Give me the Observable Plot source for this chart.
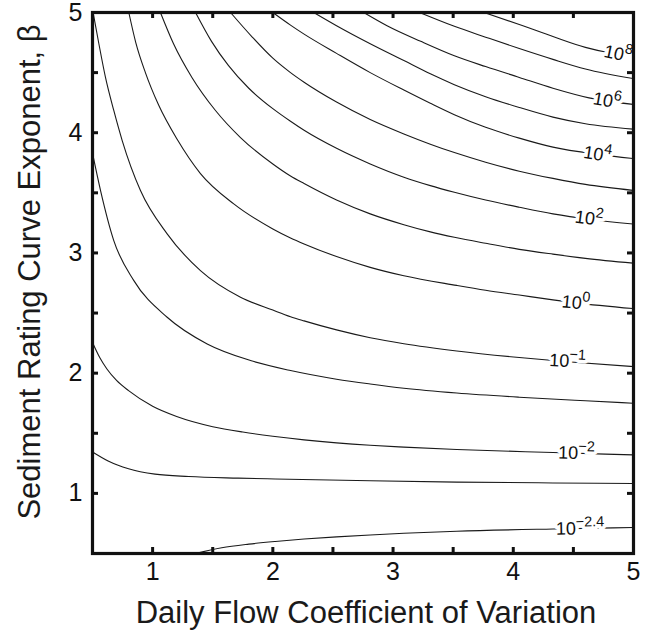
<!DOCTYPE html>
<html>
<head>
<meta charset="utf-8">
<script src="https://cdn.jsdelivr.net/npm/d3@7"></script>
<script src="https://cdn.jsdelivr.net/npm/@observablehq/plot@0.6"></script>
<style>
  body { margin: 0; background: #fff; }
  #chart { width: 647px; height: 632px; }
</style>
</head>
<body>
<div id="chart"></div>
<script>
// Contour lines: [Daily flow CV, beta]
const level8   = [[3.757,5.0],[4.05,4.90],[4.33,4.80],[4.60,4.71],[4.80,4.665],[5.0,4.64]];
const level7   = [[3.22,5.0],[3.51,4.885],[3.77,4.795],[4.05,4.70],[4.33,4.61],[4.60,4.53],[5.0,4.45]];
const level6   = [[2.756,5.0],[2.95,4.89],[3.23,4.76],[3.51,4.64],[3.77,4.55],[4.05,4.46],[4.33,4.37],[4.63,4.29],[5.0,4.235]];
const level5   = [[2.34,5.0],[2.53,4.89],[2.81,4.74],[3.09,4.60],[3.31,4.49],[3.51,4.40],[3.77,4.30],[4.05,4.21],[4.33,4.13],[4.60,4.075],[5.0,4.03]];
const level4   = [[2.0,5.0],[2.147,4.895],[2.26,4.82],[2.53,4.66],[2.81,4.50],[3.09,4.355],[3.31,4.245],[3.51,4.15],[3.77,4.045],[4.05,3.955],[4.33,3.88],[4.70,3.82],[5.0,3.785]];
const level3   = [[1.648,5.0],[1.825,4.80],[2.0,4.62],[2.147,4.50],[2.26,4.42],[2.53,4.255],[2.81,4.11],[3.09,3.99],[3.31,3.905],[3.51,3.835],[3.77,3.755],[4.05,3.68],[4.33,3.62],[4.60,3.57],[5.0,3.52]];
const level2   = [[1.357,5.0],[1.49,4.76],[1.63,4.56],[1.80,4.37],[2.0,4.20],[2.147,4.095],[2.26,4.02],[2.53,3.87],[2.81,3.74],[3.09,3.63],[3.31,3.56],[3.51,3.505],[3.77,3.44],[4.05,3.38],[4.33,3.325],[4.63,3.28],[5.0,3.24]];
const level1   = [[1.065,5.0],[1.174,4.74],[1.327,4.46],[1.523,4.185],[1.731,3.96],[2.0,3.74],[2.147,3.64],[2.26,3.577],[2.53,3.44],[2.81,3.325],[3.09,3.235],[3.31,3.175],[3.51,3.13],[3.77,3.08],[4.05,3.03],[4.33,2.99],[4.60,2.955],[5.0,2.915]];
const level0   = [[0.802,5.0],[0.86,4.75],[0.94,4.50],[1.05,4.23],[1.204,3.945],[1.398,3.66],[1.675,3.408],[2.0,3.20],[2.147,3.125],[2.26,3.075],[2.53,2.97],[2.81,2.88],[3.09,2.81],[3.53,2.73],[3.77,2.69],[4.05,2.65],[4.33,2.61],[4.52,2.585],[5.0,2.537]];
const levelM1  = [[0.505,5.0],[0.553,4.74],[0.608,4.46],[0.677,4.185],[0.747,3.935],[0.899,3.519],[1.121,3.159],[1.398,2.853],[1.731,2.632],[2.0,2.525],[2.147,2.47],[2.26,2.435],[2.53,2.36],[2.81,2.295],[3.09,2.245],[3.53,2.185],[4.05,2.13],[4.45,2.095],[5.0,2.055]];
const levelM15 = [[0.5,3.83],[0.567,3.519],[0.677,3.103],[0.844,2.77],[1.121,2.465],[1.454,2.243],[1.814,2.105],[2.147,2.022],[2.53,1.95],[2.81,1.91],[3.09,1.875],[3.53,1.835],[4.05,1.80],[4.60,1.77],[5.0,1.75]];
const levelM2  = [[0.5,2.255],[0.56,2.13],[0.62,2.035],[0.70,1.94],[0.80,1.855],[1.0,1.725],[1.2,1.64],[1.5,1.555],[1.75,1.51],[2.0,1.475],[2.26,1.445],[2.53,1.42],[2.81,1.40],[3.09,1.385],[3.53,1.365],[4.33,1.34],[5.0,1.32]];
const levelM22 = [[0.5,1.345],[0.63,1.27],[0.80,1.205],[1.02,1.16],[1.30,1.14],[1.71,1.127],[2.02,1.12],[2.81,1.105],[3.53,1.094],[4.33,1.087],[5.0,1.082]];
const levelM24 = [[1.355,0.5],[1.575,0.548],[1.80,0.578],[2.02,0.60],[2.26,0.62],[2.53,0.638],[2.81,0.654],[3.09,0.668],[3.53,0.685],[4.33,0.704],[5.0,0.716]];

// Inline contour labels
const labelText  = ["10^8","10^6","10^4","10^2","10^0","10^\u22121","10^\u22122","10^\u22122.4"];
const labelX     = [4.87, 4.78, 4.70, 4.63, 4.52, 4.45, 4.525, 4.555];
const labelY     = [4.655, 4.265, 3.82, 3.285, 2.585, 2.10, 1.335, 0.707];
const labelAngle = [12, 10, 9, 7.5, 5.5, 3, 1.5, -1];

// Axis ticks
const tickPositions = [0.5,1,1.5,2,2.5,3,3.5,4,4.5,5];
const tickLabels    = [1,2,3,4,5];

const curves = [
  ["1e8", level8], ["1e7", level7], ["1e6", level6], ["1e5", level5],
  ["1e4", level4], ["1e3", level3], ["1e2", level2], ["1e1", level1],
  ["1e0", level0], ["1e-1", levelM1], ["1e-1.5", levelM15], ["1e-2", levelM2],
  ["1e-2.2", levelM22], ["1e-2.4", levelM24]
];
const lineData = curves.flatMap(([level, pts]) => pts.map(([x, y]) => ({level, x, y})));
const labels = labelText.map((t, i) => ({text: t, x: labelX[i], y: labelY[i], angle: labelAngle[i]}));

const font = "'Liberation Sans', Arial, Helvetica, sans-serif";
const W = 647, H = 632, mT = 12, mR = 14, mB = 79, mL = 92;
const innerW = W - mL - mR, innerH = H - mT - mB;
const tickLen = 6;

const fig = Plot.plot({
  width: W, height: H,
  marginTop: mT, marginRight: mR, marginBottom: mB, marginLeft: mL,
  style: {fontFamily: font, fontSize: "25px", color: "#111", background: "#fff"},
  x: {domain: [0.5, 5]},
  y: {domain: [0.5, 5]},
  marks: [
    Plot.line(lineData, {x: "x", y: "y", z: "level", stroke: "#1a1a1a", strokeWidth: 1.1, curve: "monotone-x", clip: true}),
    // white halo that breaks the lines under the labels
    Plot.text(labels, {x: "x", y: "y", text: "text", rotate: "angle", fontSize: 18, fill: "white",
      stroke: "white", strokeWidth: 7, textAnchor: "middle", lineAnchor: "middle"}),
    Plot.text(labels, {x: "x", y: "y", text: "text", rotate: "angle", fontSize: 18, fill: "#111",
      textAnchor: "middle", lineAnchor: "middle"}),
    // inward ticks on all four sides
    Plot.ruleX(tickPositions, {stroke: "#111", strokeWidth: 3, insetTop: innerH - tickLen}),
    Plot.ruleX(tickPositions, {stroke: "#111", strokeWidth: 3, insetBottom: innerH - tickLen}),
    Plot.ruleY(tickPositions, {stroke: "#111", strokeWidth: 3, insetRight: innerW - tickLen}),
    Plot.ruleY(tickPositions, {stroke: "#111", strokeWidth: 3, insetLeft: innerW - tickLen}),
    Plot.frame({stroke: "#111", strokeWidth: 3.2}),
    Plot.axisX({ticks: tickLabels, tickSize: 0, tickPadding: 9, label: null, tickFormat: d => String(d)}),
    Plot.axisY({ticks: tickLabels, tickSize: 0, tickPadding: 10, label: null, tickFormat: d => String(d)}),
    Plot.text(["Daily Flow Coefficient of Variation"], {frameAnchor: "bottom", textAnchor: "middle", lineAnchor: "middle",
      dy: 60, dx: 3, fontSize: 31, fill: "#1a1a1a"}),
    Plot.text(["Sediment Rating Curve Exponent, \u03b2"], {frameAnchor: "left", textAnchor: "middle", lineAnchor: "middle",
      rotate: -90, dx: -62, dy: -11, fontSize: 31, fill: "#1a1a1a"})
  ]
});

// turn "10^n" labels into base + superscript
const ns = "http://www.w3.org/2000/svg";
fig.querySelectorAll("text").forEach(t => {
  const s = t.textContent;
  if (!s.includes("^")) return;
  const [base, exp] = s.split("^");
  t.textContent = "";
  const b = document.createElementNS(ns, "tspan");
  b.textContent = base;
  const e = document.createElementNS(ns, "tspan");
  e.textContent = exp;
  e.setAttribute("dy", "-0.55em");
  e.setAttribute("font-size", "0.8em");
  t.appendChild(b);
  t.appendChild(e);
  t.setAttribute("stroke-linejoin", "round");
});

document.getElementById("chart").appendChild(fig);
</script>
</body>
</html>
